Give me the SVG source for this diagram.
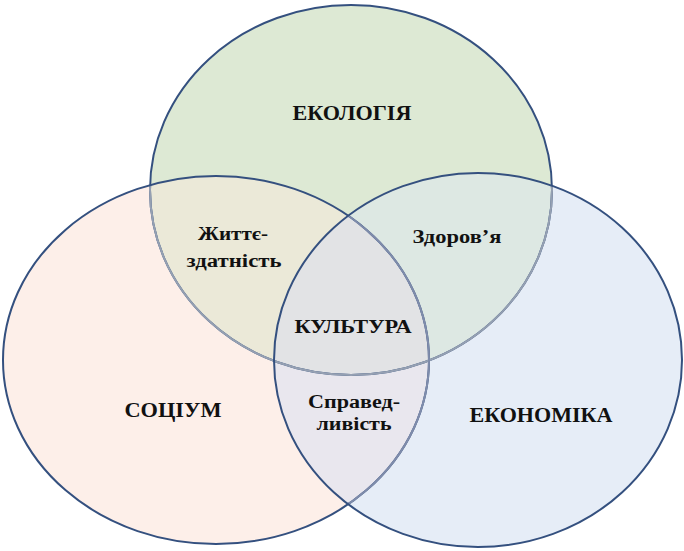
<svg xmlns="http://www.w3.org/2000/svg" width="684" height="551" viewBox="0 0 684 551">
<defs>
<clipPath id="inG"><ellipse cx="351" cy="190" rx="201" ry="185"/></clipPath>
<clipPath id="inP"><ellipse cx="216" cy="360" rx="213" ry="184"/></clipPath>
<clipPath id="inB"><ellipse cx="478" cy="360" rx="204" ry="187"/></clipPath>
<clipPath id="inPB"><ellipse cx="216" cy="360" rx="213" ry="184"/><ellipse cx="478" cy="360" rx="204" ry="187"/></clipPath>
</defs>
<style>
.dk{fill:none;stroke:#34507f;stroke-width:2}
.t{font-family:"Liberation Serif","DejaVu Serif",serif;font-weight:bold;fill:#111;text-anchor:middle}
.big{font-size:20px}
.sm{font-size:18px}
</style>
<rect width="684" height="551" fill="#ffffff"/>
<g id="ecology">
<ellipse cx="351" cy="190" rx="201" ry="185" fill="#dde9d4"/>
</g>
<g id="society">
<ellipse cx="216" cy="360" rx="213" ry="184" fill="#fdefe9"/>
<ellipse cx="216" cy="360" rx="213" ry="184" fill="#ebe9d8" clip-path="url(#inG)"/>
</g>
<g id="economy">
<ellipse cx="478" cy="360" rx="204" ry="187" fill="#e6edf7"/>
<ellipse cx="478" cy="360" rx="204" ry="187" fill="#dde8e3" clip-path="url(#inG)"/>
<ellipse cx="478" cy="360" rx="204" ry="187" fill="#e9e7ee" clip-path="url(#inP)"/>
<g clip-path="url(#inG)"><ellipse cx="478" cy="360" rx="204" ry="187" fill="#e2e3e5" clip-path="url(#inP)"/></g>
</g>
<g id="outlines">
<ellipse class="dk" cx="351" cy="190" rx="201" ry="185"/>
<ellipse cx="351" cy="190" rx="201" ry="185" fill="none" stroke="#95a0b2" stroke-width="2" clip-path="url(#inPB)"/>
<ellipse class="dk" cx="216" cy="360" rx="213" ry="184"/>
<ellipse cx="216" cy="360" rx="213" ry="184" fill="none" stroke="#7f8cab" stroke-width="2" clip-path="url(#inB)"/>
<ellipse class="dk" cx="478" cy="360" rx="204" ry="187"/>
</g>
<g id="labels">
<text class="t big" x="352" y="120" textLength="119" lengthAdjust="spacingAndGlyphs">ЕКОЛОГІЯ</text>
<text class="t big" x="173" y="417" textLength="97" lengthAdjust="spacingAndGlyphs">СОЦІУМ</text>
<text class="t big" x="541" y="422" textLength="143" lengthAdjust="spacingAndGlyphs">ЕКОНОМІКА</text>
<text class="t sm" x="457" y="243" textLength="89" lengthAdjust="spacingAndGlyphs">Здоров’я</text>
<text class="t sm" x="233" y="240" textLength="70" lengthAdjust="spacingAndGlyphs">Життє-</text>
<text class="t sm" x="234" y="267" textLength="95" lengthAdjust="spacingAndGlyphs">здатність</text>
<text class="t sm" x="353" y="333" textLength="117" lengthAdjust="spacingAndGlyphs">КУЛЬТУРА</text>
<text class="t sm" x="354" y="408" textLength="92" lengthAdjust="spacingAndGlyphs">Справед-</text>
<text class="t sm" x="354" y="430" textLength="75" lengthAdjust="spacingAndGlyphs">ливість</text>
</g>
</svg>
